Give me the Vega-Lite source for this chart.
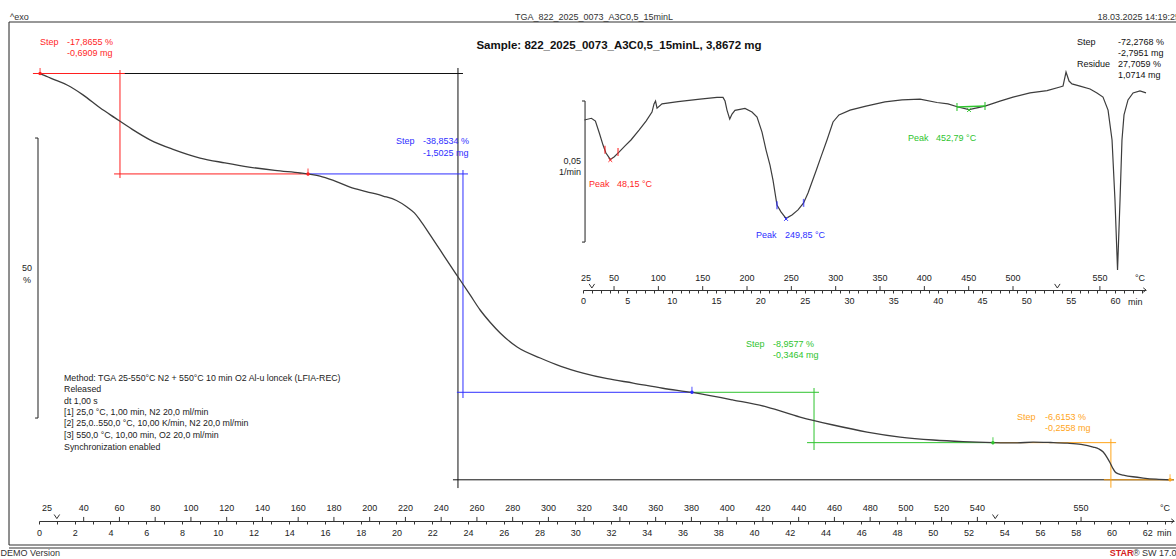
{
"$schema":"https://vega.github.io/schema/vega-lite/v6.json",
"width":1176,"height":559,"padding":0,"autosize":{"type":"none"},
"background":"#ffffff",
"config":{"view":{"stroke":null},"text":{"font":"Liberation Sans","fontSize":9,"baseline":"middle"},"axis":{"labelFont":"Liberation Sans"}},
"datasets":{
"tga":[
{"t":0,"m":100},{"t":0.06,"m":99.95},{"t":0.78,"m":99.0},{"t":1.57,"m":97.95},{"t":2.46,"m":96.2},{"t":3.41,"m":93.9},{"t":4.25,"m":92.1},{"t":5.2,"m":90.1},{"t":6.21,"m":88.2},{"t":7.5,"m":86.5},{"t":9.01,"m":84.96},{"t":10.4,"m":84.1},{"t":11.75,"m":83.36},{"t":13.2,"m":82.75},{"t":14.61,"m":82.3},{"t":15.05,"m":82.13},{"t":15.72,"m":81.76},{"t":16.5,"m":80.95},{"t":17.4,"m":79.8},{"t":18.3,"m":79.0},{"t":19.25,"m":78.2},{"t":20.0,"m":77.4},{"t":20.59,"m":76.25},{"t":21.0,"m":75.2},{"t":21.32,"m":73.93},{"t":21.9,"m":71.2},{"t":22.44,"m":68.6},{"t":23.0,"m":65.9},{"t":23.56,"m":63.26},{"t":24.12,"m":60.6},{"t":24.68,"m":57.92},{"t":25.25,"m":55.7},{"t":25.8,"m":53.83},{"t":26.75,"m":51.33},{"t":28.04,"m":49.38},{"t":29.2,"m":47.9},{"t":30.44,"m":46.71},{"t":31.8,"m":45.7},{"t":33.24,"m":44.93},{"t":34.9,"m":44.0},{"t":36.54,"m":43.25},{"t":38.84,"m":41.9},{"t":40.74,"m":40.66},{"t":42.58,"m":38.88},{"t":44.43,"m":37.46},{"t":46.33,"m":36.21},{"t":48.18,"m":35.32},{"t":50.03,"m":34.79},{"t":51.7,"m":34.5},{"t":53.39,"m":34.33},{"t":54.73,"m":34.27},{"t":55.62,"m":34.43},{"t":56.6,"m":34.35},{"t":57.53,"m":34.22},{"t":58.3,"m":34.0},{"t":58.98,"m":33.54},{"t":59.3,"m":33.2},{"t":59.54,"m":32.65},{"t":59.75,"m":31.7},{"t":59.93,"m":30.69},{"t":60.07,"m":29.8},{"t":60.21,"m":29.09},{"t":60.4,"m":28.75},{"t":60.66,"m":28.56},{"t":61.2,"m":28.25},{"t":61.78,"m":28.02},{"t":62.5,"m":27.82},{"t":63.29,"m":27.71}
],
"dtg":[
{"t":0.16,"v":-0.0124},{"t":0.95,"v":-0.0118},{"t":1.40,"v":-0.0128},{"t":1.84,"v":-0.0170},{"t":2.26,"v":-0.0213},{"t":2.59,"v":-0.0241},{"t":3.08,"v":-0.0264},{"t":3.50,"v":-0.0255},{"t":4.06,"v":-0.0238},{"t":4.74,"v":-0.0216},{"t":5.41,"v":-0.0195},{"t":6.32,"v":-0.0160},{"t":7.11,"v":-0.0128},{"t":7.78,"v":-0.0096},{"t":8.01,"v":-0.0067},{"t":8.18,"v":-0.0057},{"t":8.35,"v":-0.0082},{"t":8.91,"v":-0.0067},{"t":10.72,"v":-0.0059},{"t":13.20,"v":-0.0050},{"t":15.11,"v":-0.0044},{"t":15.79,"v":-0.0044},{"t":16.02,"v":-0.0057},{"t":16.24,"v":-0.0089},{"t":16.55,"v":-0.0121},{"t":16.81,"v":-0.0103},{"t":17.14,"v":-0.0090},{"t":18.27,"v":-0.0083},{"t":19.06,"v":-0.0096},{"t":19.63,"v":-0.0114},{"t":20.19,"v":-0.0167},{"t":20.64,"v":-0.0230},{"t":21.09,"v":-0.0284},{"t":21.43,"v":-0.0337},{"t":21.88,"v":-0.0426},{"t":22.33,"v":-0.0450},{"t":22.90,"v":-0.0473},{"t":23.57,"v":-0.0461},{"t":24.25,"v":-0.0443},{"t":24.88,"v":-0.0418},{"t":25.38,"v":-0.0383},{"t":25.83,"v":-0.0344},{"t":26.28,"v":-0.0305},{"t":26.84,"v":-0.0255},{"t":27.52,"v":-0.0195},{"t":28.20,"v":-0.0131},{"t":28.87,"v":-0.0106},{"t":30.12,"v":-0.0089},{"t":31.92,"v":-0.0075},{"t":34.06,"v":-0.0060},{"t":35.98,"v":-0.0053},{"t":38.01,"v":-0.0050},{"t":39.93,"v":-0.0062},{"t":41.17,"v":-0.0067},{"t":42.30,"v":-0.0078},{"t":43.54,"v":-0.0087},{"t":45.34,"v":-0.0075},{"t":47.03,"v":-0.0057},{"t":48.50,"v":-0.0043},{"t":50.42,"v":-0.0028},{"t":52.34,"v":-0.0020},{"t":53.80,"v":-0.0007},{"t":54.14,"v":-0.0004},{"t":54.48,"v":0.0046},{"t":54.82,"v":0.0014},{"t":55.15,"v":0.0004},{"t":56.06,"v":-0.0004},{"t":57.19,"v":-0.0014},{"t":57.97,"v":-0.0028},{"t":58.65,"v":-0.0043},{"t":59.22,"v":-0.0089},{"t":59.67,"v":-0.0195},{"t":60.00,"v":-0.0408},{"t":60.29,"v":-0.0656},{"t":60.57,"v":-0.0408},{"t":60.79,"v":-0.0195},{"t":61.02,"v":-0.0106},{"t":61.47,"v":-0.0053},{"t":62.04,"v":-0.0028},{"t":62.82,"v":-0.0021},{"t":63.50,"v":-0.0028}
],
"steps":[
{"step":"total","t":-0.3,"t2":23.72,"m":100,"m2":100},
{"step":"total","t":23.44,"t2":23.44,"m":100.98,"m2":26.24},
{"step":"total","t":23.16,"t2":63.5,"m":27.71,"m2":27.71},
{"step":"s1","t":-0.34,"t2":4.8,"m":100,"m2":100},
{"step":"s1","t":4.53,"t2":4.53,"m":100.62,"m2":81.4},
{"step":"s1","t":4.2,"t2":15.05,"m":82.13,"m2":82.13},
{"step":"s2","t":15.05,"t2":24.0,"m":82.13,"m2":82.13},
{"step":"s2","t":23.72,"t2":23.72,"m":82.83,"m2":42.26},
{"step":"s2","t":23.38,"t2":36.53,"m":43.28,"m2":43.28},
{"step":"s3","t":36.53,"t2":43.64,"m":43.28,"m2":43.28},
{"step":"s3","t":43.36,"t2":43.36,"m":44.04,"m2":33.01},
{"step":"s3","t":42.97,"t2":53.37,"m":34.32,"m2":34.32},
{"step":"s4","t":53.37,"t2":60.26,"m":34.32,"m2":34.32},
{"step":"s4","t":59.97,"t2":59.97,"m":35.0,"m2":26.3},
{"step":"s4","t":59.58,"t2":63.5,"m":27.71,"m2":27.71}
],
"markers":[
{"step":"s1","t":0.06,"m":100},{"step":"s1","t":15.05,"m":82.13},{"step":"s2","t":36.53,"m":43.28},{"step":"s3","t":53.37,"m":34.32},{"step":"s4","t":63.28,"m":27.71}
],
"stepText":[
{"step":"s1","t":0.056,"m":105.6,"text":"Step"},{"step":"s1","t":1.567,"m":105.6,"text":"-17,8655 %"},{"step":"s1","t":1.567,"m":103.65,"text":"-0,6909 mg"},
{"step":"s2","t":19.97,"m":87.99,"text":"Step"},{"step":"s2","t":21.48,"m":87.99,"text":"-38,8534 %"},{"step":"s2","t":21.48,"m":85.85,"text":"-1,5025 mg"},
{"step":"s3","t":39.55,"m":51.87,"text":"Step"},{"step":"s3","t":41.07,"m":51.87,"text":"-8,9577 %"},{"step":"s3","t":41.07,"m":49.91,"text":"-0,3464 mg"},
{"step":"s4","t":54.72,"m":38.88,"text":"Step"},{"step":"s4","t":56.28,"m":38.88,"text":"-6,6153 %"},{"step":"s4","t":56.28,"m":36.92,"text":"-0,2558 mg"},
{"step":"total","t":58.07,"m":105.6,"text":"Step"},{"step":"total","t":60.37,"m":105.6,"text":"-72,2768 %"},{"step":"total","t":60.37,"m":103.65,"text":"-2,7951 mg"},{"step":"total","t":58.07,"m":101.69,"text":"Residue"},{"step":"total","t":60.37,"m":101.69,"text":"27,7059 %"},{"step":"total","t":60.37,"m":99.73,"text":"1,0714 mg"}
],
"method":[
{"t":1.4,"m":45.76,"text":"Method: TGA 25-550°C N2 + 550°C 10 min O2 Al-u loncek (LFIA-REC)"},
{"t":1.4,"m":43.81,"text":"Released"},
{"t":1.4,"m":41.78,"text":"dt 1,00 s"},
{"t":1.4,"m":39.71,"text":"[1] 25,0 °C, 1,00 min, N2 20,0 ml/min"},
{"t":1.4,"m":37.76,"text":"[2] 25,0..550,0 °C, 10,00 K/min, N2 20,0 ml/min"},
{"t":1.4,"m":35.68,"text":"[3] 550,0 °C, 10,00 min, O2 20,0 ml/min"},
{"t":1.4,"m":33.49,"text":"Synchronization enabled"}
],
"frame":[
{"t":-1.678,"t2":63.84,"m":109.16,"m2":109.16},
{"t":-1.678,"t2":-1.678,"m":109.16,"m2":16.1},
{"t":-1.678,"t2":63.84,"m":16.1,"m2":16.1},
{"t":-1.678,"t2":63.84,"m":15.57,"m2":15.57},
{"t":-0.056,"t2":-0.056,"m":88.52,"m2":38.7},
{"t":-0.22,"t2":-0.056,"m":88.52,"m2":88.52},
{"t":-0.22,"t2":-0.056,"m":38.7,"m2":38.7}
],
"hdrLeft":[
{"t":-1.62,"m":110.05,"text":"^exo"},
{"t":-2.15,"m":14.68,"text":"DEMO Version"},
{"t":61.2,"m":14.68,"text":"® SW 17.00"}
],
"hdrRed":[{"t":59.9,"m":14.68,"text":"STAR"}],
"hdrCenter":[{"t":31.05,"m":110.05,"text":"TGA_822_2025_0073_A3C0,5_15minL"}],
"hdrRight":[{"t":63.84,"m":110.05,"text":"18.03.2025 14:19:25"}],
"sample":[{"t":32.45,"m":104.89,"text":"Sample: 822_2025_0073_A3C0,5_15minL, 3,8672 mg"}],
"yLabelMain":[{"t":-0.67,"m":65.39,"text":"50"},{"t":-0.67,"m":63.26,"text":"%"}],
"tempMain":[
{"t":0.45,"label":"25","tick":false},{"t":2.5,"label":"40","tick":true},{"t":4.5,"label":"60","tick":true},{"t":6.5,"label":"80","tick":true},{"t":8.5,"label":"100","tick":true},{"t":10.5,"label":"120","tick":true},{"t":12.5,"label":"140","tick":true},{"t":14.5,"label":"160","tick":true},{"t":16.5,"label":"180","tick":true},{"t":18.5,"label":"200","tick":true},{"t":20.5,"label":"220","tick":true},{"t":22.5,"label":"240","tick":true},{"t":24.5,"label":"260","tick":true},{"t":26.5,"label":"280","tick":true},{"t":28.5,"label":"300","tick":true},{"t":30.5,"label":"320","tick":true},{"t":32.5,"label":"340","tick":true},{"t":34.5,"label":"360","tick":true},{"t":36.5,"label":"380","tick":true},{"t":38.5,"label":"400","tick":true},{"t":40.5,"label":"420","tick":true},{"t":42.5,"label":"440","tick":true},{"t":44.5,"label":"460","tick":true},{"t":46.5,"label":"480","tick":true},{"t":48.5,"label":"500","tick":true},{"t":50.5,"label":"520","tick":true},{"t":52.5,"label":"540","tick":true},{"t":58.3,"label":"550","tick":true},{"t":63.0,"label":"°C","tick":false}
],
"tempInset":[
{"t":0.34,"label":"25","tick":false},{"t":3.5,"label":"50","tick":true},{"t":8.5,"label":"100","tick":true},{"t":13.5,"label":"150","tick":true},{"t":18.5,"label":"200","tick":true},{"t":23.5,"label":"250","tick":true},{"t":28.5,"label":"300","tick":true},{"t":33.5,"label":"350","tick":true},{"t":38.5,"label":"400","tick":true},{"t":43.5,"label":"450","tick":true},{"t":48.5,"label":"500","tick":true},{"t":58.3,"label":"550","tick":true},{"t":62.82,"label":"°C","tick":false}
],
"breaks":[{"t":1},{"t":53.5}],
"axisEnd":[{"t":63.5}],
"minMain":[{"t":62.55,"m":18.24,"text":"min"}],
"minInset":[{"t":61.47,"v":-0.07695,"text":"min"}],
"insetFrame":[
{"t":0.23,"t2":0.23,"v":-0.00567,"v2":-0.0557},
{"t":-0.11,"t2":0.23,"v":-0.00567,"v2":-0.00567},
{"t":-0.11,"t2":0.23,"v":-0.0557,"v2":-0.0557}
],
"insetYLabel":[{"t":-0.23,"v":-0.02695,"text":"0,05"},{"t":-0.23,"v":-0.03085,"text":"1/min"}],
"peakX":[{"step":"p1","t":3.08,"v":-0.0266},{"step":"p2","t":22.9,"v":-0.0475},{"step":"p3","t":43.54,"v":-0.0089}],
"peakLim":[{"step":"p1","t":2.48,"v":-0.0230},{"step":"p1","t":3.95,"v":-0.0238},{"step":"p2","t":21.88,"v":-0.0426},{"step":"p2","t":24.88,"v":-0.0418},{"step":"p3","t":42.18,"v":-0.0078},{"step":"p3","t":45.34,"v":-0.00745}],
"peakLine":[{"step":"p3","t":42.18,"t2":45.34,"v":-0.0078,"v2":-0.00745}],
"peakText":[
{"step":"p1","t":0.68,"v":-0.0351,"text":"Peak"},{"step":"p1","t":3.83,"v":-0.0351,"text":"48,15 °C"},
{"step":"p2","t":19.51,"v":-0.0532,"text":"Peak"},{"step":"p2","t":22.78,"v":-0.0532,"text":"249,85 °C"},
{"step":"p3","t":36.66,"v":-0.0188,"text":"Peak"},{"step":"p3","t":39.82,"v":-0.0188,"text":"452,79 °C"}
]
},
"layer":[
{
"encoding":{
"x":{"field":"t","type":"quantitative","scale":{"domain":[0,63.5],"range":[39,1174],"nice":false,"zero":false},
"axis":{"orient":"bottom","offset":-38,"values":[0,1,2,3,4,5,6,7,8,9,10,11,12,13,14,15,16,17,18,19,20,21,22,23,24,25,26,27,28,29,30,31,32,33,34,35,36,37,38,39,40,41,42,43,44,45,46,47,48,49,50,51,52,53,54,55,56,57,58,59,60,61,62,63],
"labelExpr":"datum.value % 2 == 0 ? datum.label : ''","tickSize":3,"tickColor":"#333333","domainColor":"#333333","labelFontSize":9,"labelColor":"#222222","labelPadding":4,"title":null,"grid":false,"labelFlush":false,"labelOverlap":false}}
},
"layer":[
{
"encoding":{"y":{"field":"m","type":"quantitative","scale":{"domain":[27.71,100],"range":[479.8,73.5],"nice":false,"zero":false},"axis":null}},
"layer":[
{"data":{"name":"frame"},"mark":{"type":"rule","color":"#333333","strokeWidth":1.1},"encoding":{"x2":{"field":"t2"},"y2":{"field":"m2"}}},
{"data":{"name":"steps"},"mark":{"type":"rule","strokeWidth":1},"encoding":{"x2":{"field":"t2"},"y2":{"field":"m2"},
"color":{"field":"step","type":"nominal","legend":null,"scale":{"domain":["s1","s2","s3","s4","total","p1","p2","p3"],"range":["#ff1f1f","#2e2eff","#2ec42e","#ffa51a","#111111","#ff1f1f","#2e2eff","#2ec42e"]}}}},
{"data":{"name":"tga"},"mark":{"type":"line","color":"#3d3d3d","strokeWidth":1.3,"interpolate":"monotone"}},
{"data":{"name":"markers"},"mark":{"type":"point","filled":true,"size":12,"opacity":1},"encoding":{
"color":{"field":"step","type":"nominal","legend":null,"scale":{"domain":["s1","s2","s3","s4","total","p1","p2","p3"],"range":["#ff1f1f","#2e2eff","#2ec42e","#ffa51a","#111111","#ff1f1f","#2e2eff","#2ec42e"]}}}},
{"data":{"name":"markers"},"mark":{"type":"tick","orient":"vertical","size":7,"thickness":1.2,"yOffset":-2},"encoding":{
"color":{"field":"step","type":"nominal","legend":null,"scale":{"domain":["s1","s2","s3","s4","total","p1","p2","p3"],"range":["#ff1f1f","#2e2eff","#2ec42e","#ffa51a","#111111","#ff1f1f","#2e2eff","#2ec42e"]}}}},
{"data":{"name":"stepText"},"mark":{"type":"text","align":"left","fontSize":9},"encoding":{"text":{"field":"text"},
"color":{"field":"step","type":"nominal","legend":null,"scale":{"domain":["s1","s2","s3","s4","total","p1","p2","p3"],"range":["#ff1f1f","#2e2eff","#2ec42e","#ffa51a","#111111","#ff1f1f","#2e2eff","#2ec42e"]}}}},
{"data":{"name":"method"},"mark":{"type":"text","align":"left","fontSize":8.8,"color":"#222222"},"encoding":{"text":{"field":"text"}}},
{"data":{"name":"hdrLeft"},"mark":{"type":"text","align":"left","fontSize":9,"color":"#333333"},"encoding":{"text":{"field":"text"}}},
{"data":{"name":"hdrRed"},"mark":{"type":"text","align":"left","fontSize":9,"fontWeight":"bold","color":"#d42020"},"encoding":{"text":{"field":"text"}}},
{"data":{"name":"hdrCenter"},"mark":{"type":"text","align":"center","fontSize":9,"color":"#333333"},"encoding":{"text":{"field":"text"}}},
{"data":{"name":"hdrRight"},"mark":{"type":"text","align":"right","fontSize":9,"color":"#333333"},"encoding":{"text":{"field":"text"}}},
{"data":{"name":"sample"},"mark":{"type":"text","align":"center","fontSize":11.5,"fontWeight":"bold","color":"#111111"},"encoding":{"text":{"field":"text"}}},
{"data":{"name":"yLabelMain"},"mark":{"type":"text","align":"center","fontSize":9,"color":"#222222"},"encoding":{"text":{"field":"text"}}},
{"data":{"name":"minMain"},"mark":{"type":"text","align":"left","fontSize":9,"color":"#222222"},"encoding":{"text":{"field":"text"}}}
]
},
{
"layer":[
{"data":{"name":"tempMain"},"mark":{"type":"text","align":"center","fontSize":9,"color":"#222222"},"encoding":{"text":{"field":"label"},"y":{"datum":22.69,"type":"quantitative","scale":{"domain":[27.71,100],"range":[479.8,73.5],"nice":false,"zero":false},"axis":null}}},
{"data":{"name":"tempMain"},"transform":[{"filter":"datum.tick"}],"mark":{"type":"rule","color":"#333333","strokeWidth":1},"encoding":{"y":{"datum":20.37,"type":"quantitative","scale":{"domain":[27.71,100],"range":[479.8,73.5],"nice":false,"zero":false},"axis":null},"y2":{"datum":21.1}}},
{"data":{"name":"breaks"},"mark":{"type":"point","shape":"M-1,-1.2L0,0.3L1,-1.2","size":30,"filled":false,"color":"#333333","strokeWidth":1,"opacity":1},"encoding":{"y":{"datum":20.95,"type":"quantitative","scale":{"domain":[27.71,100],"range":[479.8,73.5],"nice":false,"zero":false},"axis":null}}},
{"data":{"name":"axisEnd"},"mark":{"type":"point","shape":"M-1,-0.8L0,0L-1,0.8","size":30,"filled":false,"color":"#333333","strokeWidth":1,"opacity":1},"encoding":{"y":{"datum":20.37,"type":"quantitative","scale":{"domain":[27.71,100],"range":[479.8,73.5],"nice":false,"zero":false},"axis":null}}}
]
}
]
},
{
"encoding":{
"x":{"field":"t","type":"quantitative","scale":{"domain":[0,63.5],"range":[583,1146],"nice":false,"zero":false},
"axis":{"orient":"bottom","offset":-269,"values":[0,1,2,3,4,5,6,7,8,9,10,11,12,13,14,15,16,17,18,19,20,21,22,23,24,25,26,27,28,29,30,31,32,33,34,35,36,37,38,39,40,41,42,43,44,45,46,47,48,49,50,51,52,53,54,55,56,57,58,59,60,61,62,63],
"labelExpr":"datum.value % 5 == 0 ? datum.label : ''","tickSize":3,"tickColor":"#333333","domainColor":"#333333","labelFontSize":9,"labelColor":"#222222","labelPadding":3,"title":null,"grid":false,"labelFlush":false,"labelOverlap":false}}
},
"layer":[
{
"encoding":{"y":{"field":"v","type":"quantitative","scale":{"domain":[-0.08,0],"range":[310.6,85],"nice":false,"zero":false},"axis":null}},
"layer":[
{"data":{"name":"insetFrame"},"mark":{"type":"rule","color":"#333333","strokeWidth":1.1},"encoding":{"x2":{"field":"t2"},"y2":{"field":"v2"}}},
{"data":{"name":"dtg"},"mark":{"type":"line","color":"#3d3d3d","strokeWidth":1.2}},
{"data":{"name":"peakLine"},"mark":{"type":"rule","strokeWidth":1.5},"encoding":{"x2":{"field":"t2"},"y2":{"field":"v2"},
"color":{"field":"step","type":"nominal","legend":null,"scale":{"domain":["s1","s2","s3","s4","total","p1","p2","p3"],"range":["#ff1f1f","#2e2eff","#2ec42e","#ffa51a","#111111","#ff1f1f","#2e2eff","#2ec42e"]}}}},
{"data":{"name":"peakX"},"mark":{"type":"point","shape":"M-1,-1L1,1M-1,1L1,-1","size":14,"filled":false,"strokeWidth":1,"opacity":1},"encoding":{
"color":{"field":"step","type":"nominal","legend":null,"scale":{"domain":["s1","s2","s3","s4","total","p1","p2","p3"],"range":["#ff1f1f","#2e2eff","#2ec42e","#ffa51a","#111111","#ff1f1f","#2e2eff","#2ec42e"]}}}},
{"data":{"name":"peakLim"},"mark":{"type":"tick","orient":"vertical","size":8,"thickness":1.5},"encoding":{
"color":{"field":"step","type":"nominal","legend":null,"scale":{"domain":["s1","s2","s3","s4","total","p1","p2","p3"],"range":["#ff1f1f","#2e2eff","#2ec42e","#ffa51a","#111111","#ff1f1f","#2e2eff","#2ec42e"]}}}},
{"data":{"name":"peakText"},"mark":{"type":"text","align":"left","fontSize":9},"encoding":{"text":{"field":"text"},
"color":{"field":"step","type":"nominal","legend":null,"scale":{"domain":["s1","s2","s3","s4","total","p1","p2","p3"],"range":["#ff1f1f","#2e2eff","#2ec42e","#ffa51a","#111111","#ff1f1f","#2e2eff","#2ec42e"]}}}},
{"data":{"name":"insetYLabel"},"mark":{"type":"text","align":"right","fontSize":9,"color":"#222222"},"encoding":{"text":{"field":"text"}}},
{"data":{"name":"minInset"},"mark":{"type":"text","align":"left","fontSize":9,"color":"#222222"},"encoding":{"text":{"field":"text"}}}
]
},
{
"layer":[
{"data":{"name":"tempInset"},"mark":{"type":"text","align":"center","fontSize":9,"color":"#222222"},"encoding":{"text":{"field":"label"},"y":{"datum":-0.06844,"type":"quantitative","scale":{"domain":[-0.08,0],"range":[310.6,85],"nice":false,"zero":false},"axis":null}}},
{"data":{"name":"tempInset"},"transform":[{"filter":"datum.tick"}],"mark":{"type":"rule","color":"#333333","strokeWidth":1},"encoding":{"y":{"datum":-0.0727,"type":"quantitative","scale":{"domain":[-0.08,0],"range":[310.6,85],"nice":false,"zero":false},"axis":null},"y2":{"datum":-0.0713}}},
{"data":{"name":"breaks"},"mark":{"type":"point","shape":"M-1,-1.2L0,0.3L1,-1.2","size":30,"filled":false,"color":"#333333","strokeWidth":1,"opacity":1},"encoding":{"y":{"datum":-0.0717,"type":"quantitative","scale":{"domain":[-0.08,0],"range":[310.6,85],"nice":false,"zero":false},"axis":null}}},
{"data":{"name":"axisEnd"},"mark":{"type":"point","shape":"M-1,-0.8L0,0L-1,0.8","size":30,"filled":false,"color":"#333333","strokeWidth":1,"opacity":1},"encoding":{"y":{"datum":-0.0727,"type":"quantitative","scale":{"domain":[-0.08,0],"range":[310.6,85],"nice":false,"zero":false},"axis":null}}}
]
}
]
}
],
"resolve":{"scale":{"x":"independent","y":"independent"},"axis":{"x":"independent","y":"independent"}}
}
